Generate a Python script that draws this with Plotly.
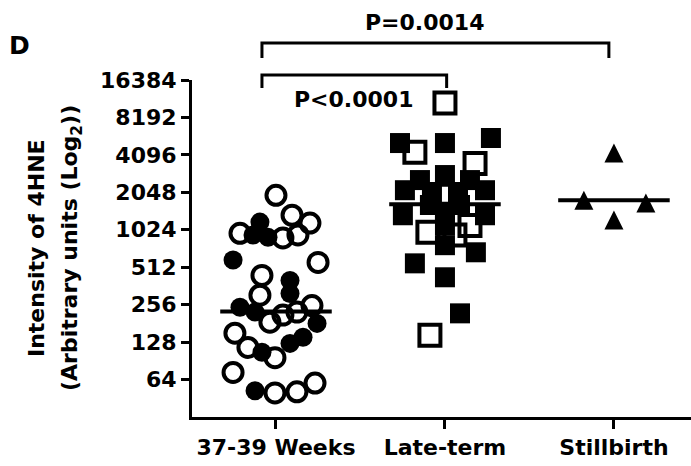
import plotly.graph_objects as go
import numpy as np

categories = ["37-39 Weeks", "Late-term", "Stillbirth"]
y_tick_vals = [64, 128, 256, 512, 1024, 2048, 4096, 8192, 16384]
y_tick_text = ["64", "128", "256", "512", "1024", "2048", "4096", "8192", "16384"]

# 37-39 Weeks: open and filled circles
weeks_open_vals = [1940, 1340, 1160, 960, 880, 930, 560, 440, 305, 252, 185, 211, 223, 151, 116, 96, 73, 50, 51, 60]
weeks_open_jitter = [0.0, 0.095, 0.201, -0.213, 0.041, 0.130, 0.249, -0.083, -0.095, 0.213, -0.036, 0.041, 0.124, -0.243, -0.166, -0.006, -0.254, -0.006, 0.124, 0.231]
weeks_filled_vals = [1180, 930, 890, 585, 400, 315, 244, 223, 181, 140, 125, 106, 52]
weeks_filled_jitter = [-0.095, -0.136, -0.047, -0.254, 0.083, 0.083, -0.213, -0.124, 0.243, 0.160, 0.083, -0.083, -0.124]

# Late-term: open and filled squares
late_open_vals = [10700, 4300, 3500, 1940, 980, 930, 1110, 145]
late_open_jitter = [0.0, -0.178, 0.178, 0.0, -0.101, 0.059, 0.148, -0.089]
late_filled_vals = [5100, 5100, 5600, 2570, 2820, 2570, 2130, 2130, 2060, 2060, 1620, 1620, 1430, 1340, 1340, 1110, 770, 675, 550, 425, 218]
late_filled_jitter = [-0.266, 0.0, 0.272, -0.148, 0.0, 0.148, -0.237, 0.237, -0.077, 0.077, -0.089, 0.089, 0.0, -0.249, 0.237, 0.0, 0.0, 0.183, -0.178, 0.0, 0.089]

# Stillbirth: triangles
still_vals = [4240, 1770, 1680, 1230]
still_jitter = [0.0, -0.178, 0.189, 0.0]

group_means = [226, 1640, 1770]

FONT = "DejaVu Sans"

fig = go.Figure()

def add_pts(cat_idx, vals, jit, symbol, size, lw, **kw):
    fig.add_trace(go.Scatter(
        x=[cat_idx + j for j in jit], y=vals, mode="markers",
        marker=dict(symbol=symbol, size=size, color="black",
                    line=dict(color="black", width=lw), **kw),
        showlegend=False, hoverinfo="y"))

add_pts(0, weeks_open_vals, weeks_open_jitter, "circle-open", 19, 4)
add_pts(0, weeks_filled_vals, weeks_filled_jitter, "circle", 19, 0)
add_pts(1, late_open_vals, late_open_jitter, "square-open", 21, 4)
add_pts(1, late_filled_vals, late_filled_jitter, "square", 20, 0)
add_pts(2, still_vals, still_jitter, "arrow-down", 19, 0, angle=180, standoff=9.5)

for i, m in enumerate(group_means):
    fig.add_trace(go.Scatter(x=[i - 0.33, i + 0.33], y=[m, m], mode="lines",
                             line=dict(color="black", width=4),
                             showlegend=False, hoverinfo="skip"))

# significance brackets
def bracket(x0, x1, ytop, ylow):
    fig.add_shape(type="path", xref="x", yref="paper",
                  path=f"M {x0},{ylow} L {x0},{ytop} L {x1},{ytop} L {x1},{ylow}",
                  line=dict(color="black", width=3))

bracket(-0.083, 1.97, 1.1098, 1.0653)
bracket(-0.083, 1.01, 1.0148, 0.9763)

ann_font = dict(family=FONT, size=22, color="black", weight="bold")
def ann(x, y, text, xref="paper", font=ann_font, **kw):
    fig.add_annotation(x=x, y=y, xref=xref, yref="paper", text=text,
                       showarrow=False, font=font,
                       xanchor="center", yanchor="middle", **kw)

ann(0.88, 1.172, "P=0.0014", xref="x")
ann(0.456, 0.9407, "P&lt;0.0001", xref="x")
ann(-0.345, 1.101, "D", font=dict(family=FONT, size=25, color="black", weight="bold"))
ann(-0.3106, 0.5015, "Intensity of 4HNE", textangle=-90)
ann(-0.2405, 0.5015, "(Arbitrary units (Log<sub>2</sub>))", textangle=-90)

fig.update_xaxes(range=[-0.497, 2.456], tickvals=[0, 1, 2], ticktext=categories,
                 showline=True, linecolor="black", linewidth=3,
                 ticks="outside", ticklen=9, tickwidth=3, tickcolor="black",
                 showgrid=False, zeroline=False,
                 tickfont=dict(family=FONT, size=22, color="black", weight="bold"))
fig.update_yaxes(type="log", range=[np.log10(32), np.log10(16384)],
                 tickvals=y_tick_vals, ticktext=y_tick_text,
                 showline=True, linecolor="black", linewidth=3,
                 ticks="outside", ticklen=8, tickwidth=3, tickcolor="black",
                 showgrid=False, zeroline=False,
                 tickfont=dict(family=FONT, size=22, color="black", weight="bold"))

fig.update_layout(width=691, height=466,
                  margin=dict(l=192, r=0, t=80, b=49),
                  plot_bgcolor="white", paper_bgcolor="white",
                  showlegend=False)

fig.write_html("out.html", config={"displayModeBar": False},
               post_script="document.body.style.margin='0px';document.body.style.overflow='hidden';")
